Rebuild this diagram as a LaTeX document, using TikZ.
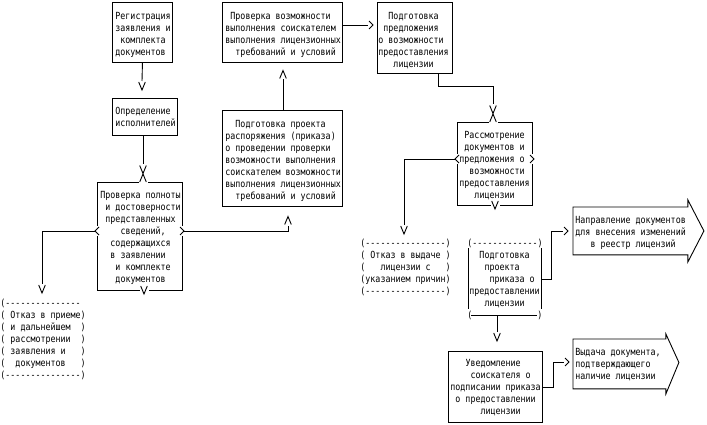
\documentclass[tikz,border=0pt]{standalone}
\usepackage{fontspec}
\setmonofont[FakeStretch=0.85]{DejaVu Sans Mono}
\begin{document}
\begin{tikzpicture}[x=1pt,y=-1pt,line width=0.9pt,
  box/.style={draw,inner sep=0pt,anchor=north west},
  txt/.style={font=\ttfamily\fontsize{9.8}{12}\selectfont,align=left,inner sep=0pt,anchor=north west},
  vd/.pic={\draw (-3.3,-4)--(0,4)--(3.3,-4);},
  vu/.pic={\draw (-3.3,4)--(0,-4)--(3.3,4);},
  vr/.pic={\draw (-2,-4)--(2,0)--(-2,4);},
  eu/.pic={\fill[white] (-4.5,2.5) rectangle (4.5,5.5); \draw (-3.3,4)--(0,-4)--(3.3,4);},
  ed/.pic={\fill[white] (-4.5,-1.5) rectangle (4.5,1.5); \draw (-3.3,-4)--(0,4)--(3.3,-4);},
  el/.pic={\fill[white] (-1.5,-5) rectangle (1.5,5); \draw (2,-4)--(-2,0)--(2,4);},
  er/.pic={\fill[white] (-1.5,-5) rectangle (1.5,5); \draw (-2,-4)--(2,0)--(-2,4);},
]
\fill[white] (0,0) rectangle (707,425);
\useasboundingbox (0,0) rectangle (707,425);

% boxes
\node[box,minimum width=60pt,minimum height=60pt] (b1) at (112,2) {};
\node[box,minimum width=65pt,minimum height=37pt] (b2) at (112,98) {};
\node[box,minimum width=85pt,minimum height=108pt] (b3) at (97,182) {};
\node[box,minimum width=120pt,minimum height=60pt] (b4) at (222,2) {};
\node[box,minimum width=120pt,minimum height=96pt] (b5) at (222,110) {};
\node[box,minimum width=75pt,minimum height=71pt] (b6) at (377,2) {};
\node[box,minimum width=75pt,minimum height=83pt] (b7) at (457,122) {};
\node[box,minimum width=94pt,minimum height=71pt] (b11) at (448,351) {};

% arrow-shaped boxes
\node[inner sep=0pt,minimum width=114pt,minimum height=47pt,anchor=north west] (a1) at (573,207) {};
\draw (a1.north west) -- (a1.north east) -- ++(0,-7) -- ([xshift=16pt]a1.east) -- ([yshift=-7pt]a1.south east) -- (a1.south east) -- (a1.south west) -- cycle;
\node[inner sep=0pt,minimum width=92pt,minimum height=49pt,anchor=north west] (a2) at (573,339) {};
\draw (a2.north west) -- (a2.north east) -- ++(0,-5) -- ([xshift=13pt,yshift=1.5pt]a2.east) -- ([yshift=-5pt]a2.south east) -- (a2.south east) -- (a2.south west) -- cycle;

% bracket box 3 frame
\coordinate (p3r) at (541,279);
\coordinate (p3b) at (497,315);
\draw (468,248) -- (468,309);
\draw (541,248) -- (541,309);
\draw (471,315) -- (537,315);

% glyph positions
\coordinate (g12) at (142,86);
\coordinate (g23a) at (143,169.5);
\coordinate (g23b) at (143,178);
\coordinate (b3l) at (97,231);
\coordinate (b3r) at (182,231);
\coordinate (b3d) at (144,290);
\coordinate (g3a) at (42,289);
\coordinate (g35) at (288,220.5);
\coordinate (g54) at (283,74.5);
\coordinate (g46) at (371,25);
\coordinate (g67a) at (493,109.5);
\coordinate (g67b) at (493,118);
\coordinate (b7l) at (457,159);
\coordinate (b7r) at (532,159);
\coordinate (b7d) at (495,205);
\coordinate (g7x) at (404,230);
\coordinate (g3n) at (566,231);
\coordinate (g3v) at (497,337);
\coordinate (gA2) at (567,362);

% edge glyphs
\pic at (g23b) {eu};
\pic at (b3l) {el};
\pic at (b3r) {er};
\pic at (b3d) {ed};
\pic at (g67b) {eu};
\pic at (b7l) {el};
\pic at (b7r) {er};
\pic at (b7d) {ed};

% arrow glyphs
\pic at (g12) {vd};
\pic at (g23a) {vd};
\pic at (g3a) {vd};
\pic at (g35) {vu};
\pic at (g54) {vu};
\pic at (g46) {vr};
\pic at (g67a) {vd};
\pic at (g7x) {vd};
\pic at (g3n) {vr};
\pic at (g3v) {vd};
\pic at (gA2) {vr};

% connectors
\draw (b1.south) -- ([yshift=5pt]g12);
\draw (b2.south -| g23a) -- ([yshift=5pt]g23a);
\draw ([xshift=-2pt]b3l) -| ([yshift=5pt]g3a);
\draw ([xshift=2pt]b3r) -| ([yshift=-5pt]g35);
\draw (b5.north -| g54) -- ([yshift=-5pt]g54);
\draw (b4.east |- g46) -- ([xshift=-3pt]g46);
\draw ([xshift=23.5pt]b6.south) -- ++(0,13) -| ([yshift=5pt]g67a);
\draw ([xshift=-2pt]b7l) -| ([yshift=5pt]g7x);
\draw (p3r) -- ++(10,0) |- ([xshift=-3pt]g3n);
\draw (p3b) -- ([yshift=5pt]g3v);
\draw (b11.east) -- ++(11,0) |- ([xshift=-3pt]gA2);

% texts
\node[txt] (t1) at (115,10.6) {\strut Регистрация\\заявления~и\\~комплекта\\документов};
\node[txt] (t2) at (115,105.6) {\strut Определение\\исполнителей};
\node[txt] (t3) at (100,189.6) {\strut Проверка~полноты\\~и~достоверности\\~представленных\\~~~~сведений,\\~~содержащихся\\~~в~заявлении\\~~~и~комплекте\\~~~документов};
\node[txt] (t4) at (225,10.6) {\strut ~Проверка~возможности\\выполнения~соискателем\\выполнения~лицензионных\\~~требований~и~условий};
\node[txt] (t5) at (225,118.6) {\strut ~~Подготовка~проекта\\распоряжения~(приказа)\\о~проведении~проверки\\возможности~выполнения\\соискателем~возможности\\выполнения~лицензионных\\~~требований~и~условий};
\node[txt] (t6) at (378,10.6) {\strut ~~Подготовка\\~предложения\\о~возможности\\предоставления\\~~~лицензии};
\node[txt] (t7) at (459,129.6) {\strut ~Рассмотрение\\~документов~и\\предложения~о\\~~возможности\\предоставления\\~~~лицензии};
\node[txt] (t8) at (0,297.6) {\strut (---------------\\(~Отказ~в~приеме)\\(~и~дальнейшем~~)\\(~рассмотрении~~)\\(~заявления~и~~~)\\(~~документов~~~)\\(---------------)};
\node[txt] (t9) at (360,237.6) {\strut (----------------)\\(~Отказ~в~выдаче~)\\(~~~лицензии~с~~~)\\(указанием~причин)\\(----------------)};
\node[txt] (t10a) at (467,237.6) {\strut (-------------)};
\node[txt] (t10) at (469,249.6) {\strut ~~Подготовка\\~~~проекта\\~~~~приказа~о\\предоставлении\\~~~лицензии};
\node[txt] (t10b) at (467,309.6) {\strut (};
\node[txt] (t10c) at (537,309.6) {\strut )};
\node[txt] (t11) at (450,357.6) {\strut ~~~Уведомление\\~~~~соискателя~о\\подписании~приказа\\~о~предоставлении\\~~~~~~лицензии};
\node[txt] (t12) at (575,214.6) {\strut Направление~документов\\для~внесения~изменений\\~~~в~реестр~лицензий};
\node[txt] (t13) at (575,346.6) {\strut Выдача~документа,\\подтверждающего\\наличие~лицензии};
\end{tikzpicture}
\end{document}
